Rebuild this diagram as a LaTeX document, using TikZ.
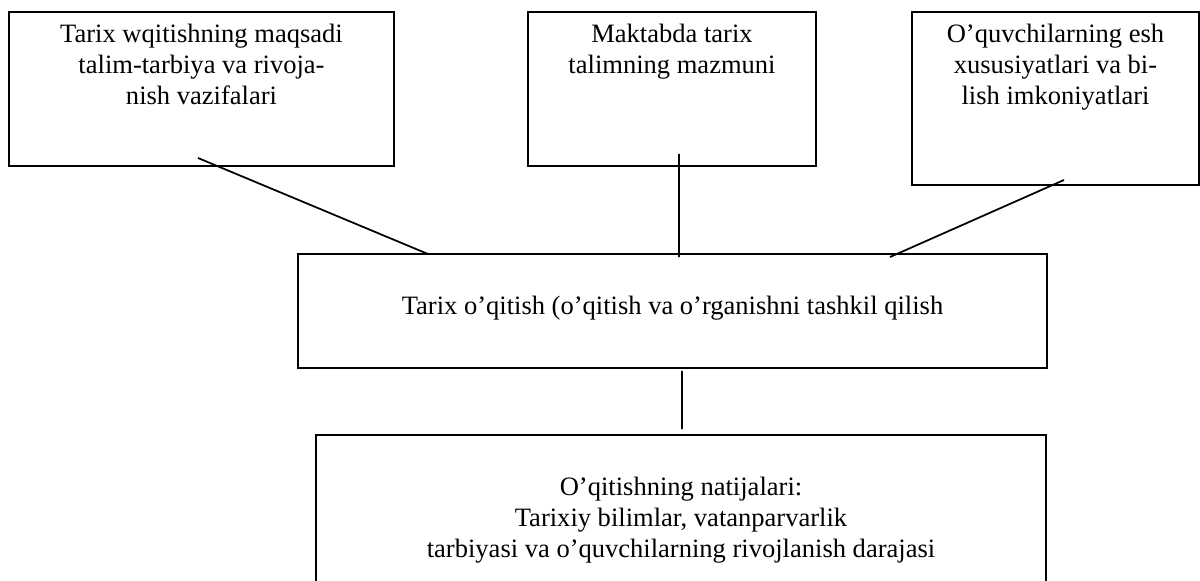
\documentclass[tikz,border=0pt]{standalone}
\usepackage{fontspec}
\setmainfont{Liberation Serif}
\usetikzlibrary{positioning}

\begin{document}
\begin{tikzpicture}[x=0.02cm, y=-0.02cm,
    box/.style={draw, line width=1pt, inner sep=0pt, outer sep=0pt},
    txt/.style={align=center, inner sep=0pt, font=\fontsize{15.1}{17.6}\selectfont},
    link/.style={line width=1pt}]
    \useasboundingbox (0,0) rectangle (1200,581);
    \clip (0,0) rectangle (1200,581);

    % Top row
    \node[box, minimum width=7.70cm, minimum height=3.08cm] (goal) at (201.5,89) {};
    \node[txt, below=6.6pt of goal.north] (goaltxt) {Tarix wqitishning maqsadi\\talim-tarbiya va rivoja-\\nish vazifalari};
    \node[box, minimum width=5.76cm, minimum height=3.08cm] (content) at (672,89) {};
    \node[txt, below=6.8pt of content.north] (contenttxt) {Maktabda tarix\\talimning mazmuni};
    \node[box, minimum width=5.74cm, minimum height=3.46cm] (pupil) at (1055.5,98.5) {};
    \node[txt, below=6.8pt of pupil.north] (pupiltxt) {O’quvchilarning esh\\xususiyatlari va bi-\\lish imkoniyatlari};

    % Teaching
    \node[box, minimum width=14.98cm, minimum height=2.28cm] (teach) at (672.5,311) {};
    \node[txt, below=23.9pt of teach.north] (teachtxt) {Tarix o’qitish (o’qitish va o’rganishni tashkil qilish};

    % Results
    \node[box, minimum width=14.60cm, minimum height=3.30cm] (result) at (681,517.5) {};
    \node[txt, below=23.9pt of result.north] (resulttxt) {O’qitishning natijalari:\\Tarixiy bilimlar, vatanparvarlik\\tarbiyasi va o’quvchilarning rivojlanish darajasi};

    % Links
    \draw[link] ([shift={(-3.5,-8)}]goal.south) -- ([shift={(-244.5,0)}]teach.north);
    \draw[link] ([shift={(7,-12)}]content.south) -- ([shift={(6.5,3)}]teach.north);
    \draw[link] ([shift={(8.5,-5)}]pupil.south) -- ([shift={(217.5,3)}]teach.north);
    \draw[link] ([shift={(9.5,3)}]teach.south) -- ([shift={(1,-6)}]result.north);
\end{tikzpicture}
\end{document}
